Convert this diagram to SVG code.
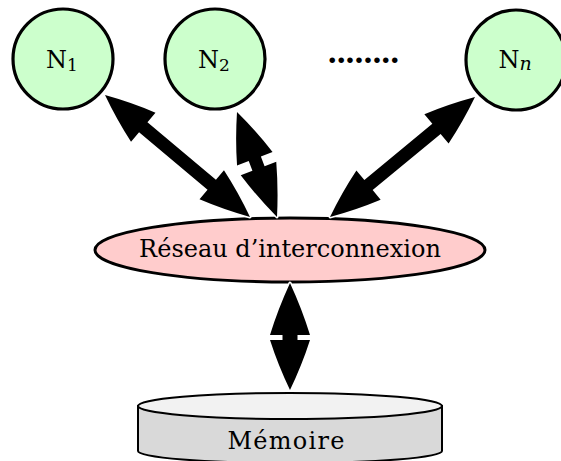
<svg xmlns="http://www.w3.org/2000/svg" width="561" height="461" viewBox="0 0 561 461">
<style>
.node{fill:#ccffcc;stroke:#000;stroke-width:3.2}
.lbl{font-family:"DejaVu Serif","Liberation Serif",serif;fill:#000}
.arrow{fill:#000;stroke:#fff;stroke-width:3;stroke-linejoin:round;paint-order:stroke}
</style>
<rect width="561" height="461" fill="#fff"/>
<g id="n1">
<circle class="node" cx="63" cy="59" r="50"/>
<text class="lbl" x="62" y="68" font-size="24" text-anchor="middle">N<tspan font-size="17" dy="3">1</tspan></text>
</g>
<g id="n2">
<circle class="node" cx="215" cy="59" r="50"/>
<text class="lbl" x="214" y="68" font-size="24" text-anchor="middle">N<tspan font-size="17" dy="3">2</tspan></text>
</g>
<g id="dots">
<text class="lbl" x="327" y="63" font-size="30" font-weight="bold" textLength="73" lengthAdjust="spacing">........</text>
</g>
<g id="nn">
<circle class="node" cx="516" cy="60" r="50"/>
<text class="lbl" x="515" y="68" font-size="24" text-anchor="middle">N<tspan font-size="19" font-style="italic" dy="2">n</tspan></text>
</g>
<g id="reseau">
<ellipse cx="290" cy="250" rx="195" ry="32" fill="#ffcccc" stroke="#000" stroke-width="3"/>
<text class="lbl" x="290" y="257" font-size="24" text-anchor="middle">Réseau d’interconnexion</text>
</g>
<g id="memoire">
<path d="M138,406 L138,451 A152,12 0 0 0 442,451 L442,406 Z" fill="#d9d9d9" stroke="#000" stroke-width="2"/>
<ellipse cx="290" cy="406" rx="152" ry="13" fill="#f2f2f2" stroke="#000" stroke-width="2"/>
<text class="lbl" x="286" y="449" font-size="24" text-anchor="middle" textLength="117" lengthAdjust="spacing">Mémoire</text>
</g>
<g id="connectors">
<path class="arrow" transform="translate(105,95) rotate(40.08)" d="M0,0 Q25,-11.4 50,-19 L50,-6.5 L139.5,-6.5 L139.5,-19 Q164.5,-11.4 189.5,0 Q164.5,11.4 139.5,19 L139.5,6.5 L50,6.5 L50,19 Q25,11.4 0,0Z"/>
<path class="arrow" transform="translate(237,112) rotate(69.15)" d="M0,0 Q25,-11.4 50,-19 L50,-6.5 L60.4,-6.5 L60.4,-19 Q86.4,-11.4 112.4,0 Q86.4,11.4 60.4,19 L60.4,6.5 L50,6.5 L50,19 Q25,11.4 0,0Z"/>
<path class="arrow" transform="translate(475,97) rotate(140.4)" d="M0,0 Q25,-11.4 50,-19 L50,-6.5 L138.2,-6.5 L138.2,-19 Q163.2,-11.4 188.2,0 Q163.2,11.4 138.2,19 L138.2,6.5 L50,6.5 L50,19 Q25,11.4 0,0Z"/>
<path class="arrow" transform="translate(290,283) rotate(90)" d="M0,0 Q26,-12 52,-20 L52,-7.5 L57,-7.5 L57,-20 Q82,-12 107,0 Q82,12 57,20 L57,7.5 L52,7.5 L52,20 Q26,12 0,0Z"/>
</g>
</svg>
